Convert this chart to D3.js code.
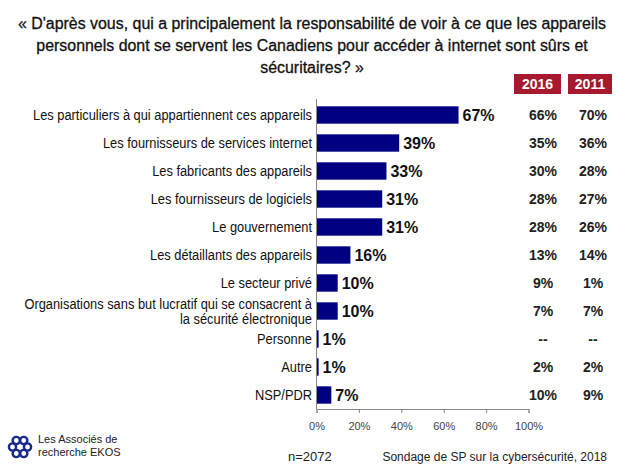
<!DOCTYPE html>
<html><head><meta charset="utf-8">
<script src="https://cdn.jsdelivr.net/npm/d3@7"></script>
<style>body{margin:0;background:#fff}svg{display:block}text{font-family:"Liberation Sans",Arial,sans-serif}</style>
</head><body>
<script>
const titleLines = ["« D'après vous, qui a principalement la responsabilité de voir à ce que les appareils",
  "personnels dont se servent les Canadiens pour accéder à internet sont sûrs et",
  "sécuritaires? »"];
const categories = [
  ["Les particuliers à qui appartiennent ces appareils"],
  ["Les fournisseurs de services internet"],
  ["Les fabricants des appareils"],
  ["Les fournisseurs de logiciels"],
  ["Le gouvernement"],
  ["Les détaillants des appareils"],
  ["Le secteur privé"],
  ["Organisations sans but lucratif qui se consacrent à","la sécurité électronique"],
  ["Personne"],
  ["Autre"],
  ["NSP/PDR"]
];
const values2018 = [67, 39, 33, 31, 31, 16, 10, 10, 1, 1, 7];
const values2016 = ["66%","35%","30%","28%","28%","13%","9%","7%","--","2%","10%"];
const values2011 = ["70%","36%","28%","27%","26%","14%","1%","7%","--","2%","9%"];
const columnYears = ["2016","2011"];
const xTicks = [0,20,40,60,80,100];

const W=624,H=468;
const svg=d3.select("body").append("svg").attr("width",W).attr("height",H);

function compress(sel, factor){
  sel.each(function(){
    const n=this; const L=n.getComputedTextLength();
    d3.select(n).attr("textLength",L*factor).attr("lengthAdjust","spacingAndGlyphs");
  });
}

// title
const tt=svg.append("g").selectAll("text").data(titleLines).join("text")
  .attr("x",312).attr("y",(d,i)=>29+i*22).attr("text-anchor","middle")
  .attr("font-size",16).attr("fill","#111").attr("stroke","#111").attr("stroke-width",0.3)
  .text(d=>d);
{
  const L0=tt.nodes()[0].getComputedTextLength();
  if (L0>588) compress(tt, 588/L0);
}

const idx = categories.map((d,i)=>i);
const x=d3.scaleLinear().domain([0,100]).range([316.5,528.5]);
const y=d3.scaleBand().domain(idx).range([101,409]).paddingInner(0.38).paddingOuter(0.19);

// bars
svg.append("g").selectAll("rect").data(values2018).join("rect")
  .attr("x",x(0)).attr("y",(d,i)=>y(i)).attr("width",d=>x(d)-x(0)).attr("height",y.bandwidth())
  .attr("fill","#000080");

// value labels
svg.append("g").selectAll("text").data(values2018).join("text")
  .attr("x",d=>x(d)+4).attr("y",(d,i)=>y(i)+y.bandwidth()/2+6)
  .attr("font-size",16).attr("font-weight","bold").attr("fill","#111").text(d=>d+"%");

// category labels
const labelG=svg.append("g");
categories.forEach((d,i)=>{
  d.forEach((line,k)=>{
    const yy=y(i)+y.bandwidth()/2+5+(d.length>1?(k===0?-7.5:7.5):0);
    labelG.append("text").attr("x",312).attr("y",yy).attr("text-anchor","end")
      .attr("font-size",14).attr("fill","#111").text(line);
  });
});
{
  const first=labelG.select("text").node().getComputedTextLength();
  compress(labelG.selectAll("text"), 279/first);
}

// left axis line
svg.append("line").attr("x1",x(0)).attr("x2",x(0)).attr("y1",99).attr("y2",409).attr("stroke","#888");

// bottom axis
const xa=svg.append("g").attr("transform","translate(0,409)")
  .call(d3.axisBottom(x).tickValues(xTicks).tickSize(4).tickFormat(d=>d+"%"));
xa.select(".domain").attr("stroke","#888");
xa.selectAll(".tick line").attr("stroke","#888");
xa.selectAll(".tick text").attr("font-size",11).attr("fill","#444").attr("font-family","Liberation Sans, Arial, sans-serif").attr("dy","1.25em");

// column headers
const colX=[543,593];
const boxX=[[514,561],[568,612]];
columnYears.forEach((yr,j)=>{
  svg.append("rect").attr("x",boxX[j][0]).attr("y",74).attr("width",boxX[j][1]-boxX[j][0]).attr("height",20).attr("fill","#a6192e");
  svg.append("text").attr("x",(boxX[j][0]+boxX[j][1])/2).attr("y",89).attr("text-anchor","middle")
    .attr("font-size",14).attr("font-weight","bold").attr("fill","#fff").text(yr);
});
[values2016,values2011].forEach((vals,j)=>{
  svg.append("g").selectAll("text").data(vals).join("text")
    .attr("x",colX[j]).attr("y",(d,i)=>y(i)+y.bandwidth()/2+5).attr("text-anchor","middle")
    .attr("font-size",14).attr("font-weight","bold").attr("fill","#222").text(d=>d);
});

// footer
const logo=svg.append("g").attr("transform","translate(20,447)");
d3.range(6).forEach(k=>{
  const a=k*Math.PI/3;
  logo.append("circle").attr("cx",7.5*Math.cos(a)).attr("cy",7.5*Math.sin(a)).attr("r",3.6).attr("fill","none").attr("stroke","#1a2a8a").attr("stroke-width",2.4);
});
svg.append("text").attr("x",38).attr("y",443).attr("font-size",11).attr("fill","#222").text("Les Associés de");
svg.append("text").attr("x",38).attr("y",456).attr("font-size",11).attr("fill","#222").text("recherche EKOS");
svg.append("text").attr("x",288).attr("y",461).attr("font-size",13).attr("fill","#222").text("n=2072");
svg.append("text").attr("x",607).attr("y",461).attr("text-anchor","end").attr("font-size",12).attr("fill","#222").text("Sondage de SP sur la cybersécurité, 2018");
</script>
</body></html>
